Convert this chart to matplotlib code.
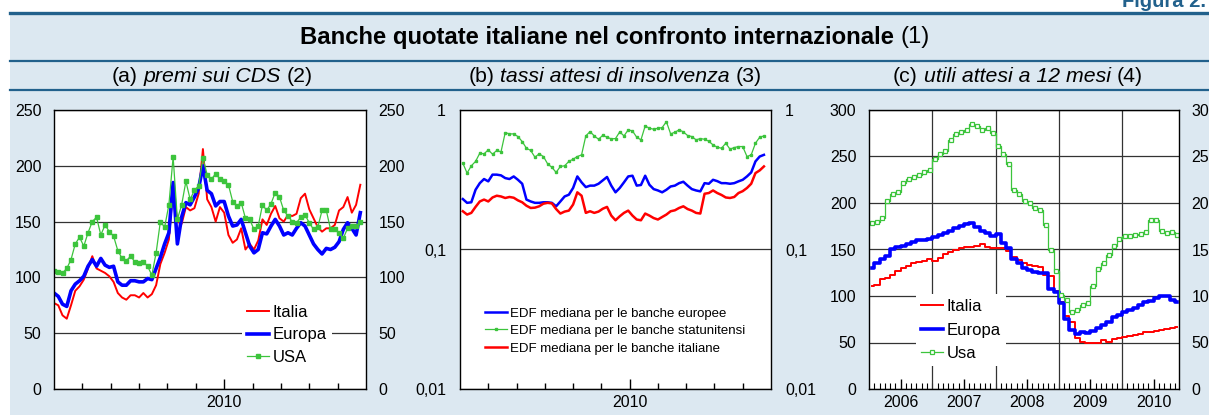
import numpy as np
import matplotlib
matplotlib.use('Agg')
import matplotlib.pyplot as plt
from matplotlib.transforms import IdentityTransform
from matplotlib.patches import Rectangle
from matplotlib.lines import Line2D
from matplotlib.ticker import NullLocator

plt.rcParams['font.family'] = ['Liberation Sans', 'DejaVu Sans']

RED = '#ff0000'
BLUE = '#0000ff'
GREEN = '#3cc43c'
BG = '#dce8f1'
NAVY = '#22618c'
GRID = '#333333'

# ---- (a) premi sui CDS: months from start of window, ~0.15 month step
months_a = np.round(np.arange(73) * 0.15, 2)
cds_italia = [77, 75, 66, 63, 75, 88, 92, 98, 108, 119,
              108, 106, 104, 101, 96, 86, 82, 80, 84, 84,
              82, 86, 82, 85, 93, 112, 122, 134, 180, 150,
              148, 163, 160, 162, 175, 215, 170,
              163, 150, 163, 158, 138, 131, 134, 144, 125, 130,
              125, 133, 152, 147, 157, 164, 153, 150, 156, 155,
              157, 171, 175, 161, 153, 145, 141, 144, 144, 147,
              160, 163, 172, 158, 165, 183]
cds_europa = [86, 83, 76, 74, 88, 94, 97, 101, 110, 116,
              110, 117, 111, 109, 110, 96, 93, 93, 97, 97,
              96, 96, 99, 98, 108, 118, 130, 140, 185, 130,
              154, 167, 165, 172, 180, 200, 178,
              175, 164, 168, 168, 155, 146, 147, 152, 140, 128,
              122, 125, 140, 139, 146, 152, 146, 138, 140, 138,
              144, 149, 146, 138, 130, 125, 121, 126, 125, 127,
              132, 143, 149, 144, 138, 158]
cds_usa = [106, 105, 104, 108, 116, 130, 136, 128, 140, 150,
           154, 138, 147, 141, 137, 124, 117, 115, 119, 114,
           113, 114, 110, 102, 122, 150, 145, 165, 208, 152,
           165, 186, 170, 178, 182, 207, 192,
           188, 193, 188, 186, 183, 168, 164, 167, 153, 152,
           143, 146, 165, 160, 166, 176, 172, 160, 155, 150,
           149, 154, 156, 149, 143, 145, 160, 160, 143, 143,
           140, 135, 144, 146, 146, 150]

# ---- (b) tassi attesi di insolvenza (EDF, log scale)
months_b = np.round(0.1 + np.arange(72) * 0.15, 2)
edf_europa = [0.230, 0.216, 0.218, 0.268, 0.299, 0.320, 0.308, 0.344, 0.344, 0.340,
              0.325, 0.320, 0.334, 0.316, 0.296, 0.228, 0.221, 0.216, 0.216, 0.218,
              0.218, 0.216, 0.204, 0.221, 0.240, 0.247, 0.276, 0.334, 0.303, 0.280,
              0.287, 0.287, 0.296, 0.313, 0.331, 0.287, 0.257, 0.276, 0.303, 0.334,
              0.338, 0.287, 0.290, 0.338, 0.291, 0.271, 0.265, 0.257, 0.268, 0.283,
              0.287, 0.299, 0.306, 0.287, 0.271, 0.265, 0.261, 0.299, 0.296, 0.316,
              0.309, 0.299, 0.299, 0.296, 0.299, 0.308, 0.316, 0.334, 0.357, 0.428,
              0.464, 0.477]
edf_usa = [0.416, 0.353, 0.398, 0.428, 0.490, 0.485, 0.518, 0.482, 0.513, 0.501,
           0.689, 0.674, 0.674, 0.645, 0.594, 0.532, 0.513, 0.459, 0.485, 0.464,
           0.411, 0.388, 0.357, 0.394, 0.398, 0.428, 0.444, 0.464, 0.477, 0.652,
           0.700, 0.652, 0.617, 0.659, 0.638, 0.621, 0.624, 0.697, 0.652, 0.720,
           0.708, 0.638, 0.611, 0.769, 0.740, 0.728, 0.740, 0.748, 0.825, 0.674,
           0.693, 0.720, 0.697, 0.656, 0.645, 0.611, 0.624, 0.617, 0.597, 0.562,
           0.541, 0.532, 0.578, 0.524, 0.538, 0.547, 0.547, 0.464, 0.477, 0.578,
           0.638, 0.652]
edf_italia = [0.188, 0.178, 0.183, 0.202, 0.221, 0.228, 0.221, 0.236, 0.243, 0.240,
              0.234, 0.238, 0.235, 0.225, 0.218, 0.206, 0.1985, 0.1995, 0.204, 0.213,
              0.216, 0.214, 0.195, 0.181, 0.187, 0.190, 0.210, 0.257, 0.243, 0.183,
              0.188, 0.183, 0.187, 0.196, 0.202, 0.175, 0.162, 0.173, 0.183, 0.190,
              0.175, 0.164, 0.162, 0.181, 0.175, 0.168, 0.164, 0.171, 0.178, 0.188,
              0.191, 0.1985, 0.204, 0.195, 0.190, 0.183, 0.181, 0.251, 0.254, 0.265,
              0.254, 0.246, 0.236, 0.234, 0.238, 0.254, 0.262, 0.276, 0.296, 0.353,
              0.369, 0.394]

# ---- (c) utili attesi a 12 mesi, monthly Jan 2006 - Nov 2010
dates_c = 2006 + (np.arange(59) + 0.5) / 12
utili_italia = [111, 112, 118, 119, 123, 127, 130, 132.5, 135, 136.5, 138, 139.5,
                138, 141, 145, 147, 149.5, 151.5, 152.5, 153, 153.6, 155.5, 153, 152,
                151.4, 151.4, 148, 142, 139, 135, 133.6, 132.5, 131.5, 123, 121, 105,
                94, 78, 72, 55, 51, 50, 49, 50, 52.5, 51, 54, 55,
                56, 57, 58, 59.6, 61, 61.4, 62, 63, 64.5, 66, 66.8]
utili_europa = [130, 136, 140, 143, 150, 152.5, 154, 156, 158, 160, 160.7, 161,
                163, 166, 168, 170, 173, 175, 177, 179, 174, 170, 168, 165,
                167, 157, 152, 140, 135, 130, 128, 126, 125, 125, 107, 104,
                92, 75, 63, 59, 61, 60, 62, 66, 68.6, 72, 77.5, 80,
                83, 84.6, 87, 90, 94, 95, 98, 100.5, 100, 96, 94]
utili_usa = [179, 180, 183.5, 202.5, 209.6, 212, 222, 226, 228, 230, 233, 235,
             247, 253, 256, 268, 274, 276, 278, 285, 283, 278, 281, 275,
             261, 253, 242, 214, 209.6, 202.5, 200, 195, 193, 176, 149, 127,
             100.7, 96, 83, 85, 90, 93, 111, 129, 135, 144, 154, 161,
             164, 165, 166, 167, 168.6, 182, 182, 170, 168, 169, 166]

W, H = 1209, 415
fig = plt.figure(figsize=(W / 100, H / 100), dpi=100)
fig.patch.set_facecolor('white')

# header / background
fig.patches.append(Rectangle((10, 0), W - 10, H - 13, transform=IdentityTransform(),
                             facecolor=BG, edgecolor='none', zorder=-5))
for yy, lw in [(13, 2.4), (60.5, 1.6), (90, 1.6)]:
    fig.lines.append(Line2D([10, W], [H - yy, H - yy], transform=IdentityTransform(),
                            color=NAVY, lw=lw, zorder=-4))
fig.text(1206, H - 6.5, 'Figura 2.', transform=IdentityTransform(), ha='right',
         va='baseline', fontsize=14.5, fontweight='bold', color=NAVY)

renderer = fig.canvas.get_renderer()


def rich(cx, cy, parts, size):
    gap = 0.278 * size * 100 / 72
    texts = [fig.text(0, H - cy, s, transform=IdentityTransform(), fontsize=size,
                      va='center', ha='left', **kw) for s, kw in parts]
    widths = [t.get_window_extent(renderer).width for t in texts]
    x = cx - (sum(widths) + gap * (len(texts) - 1)) / 2
    for t, w in zip(texts, widths):
        t.set_x(x)
        x += w + gap


rich(615, 37, [('Banche quotate italiane nel confronto internazionale', {'fontweight': 'bold'}),
               ('(1)', {})], 17.2)
rich(212, 76, [('(a)', {}), ('premi sui CDS', {'style': 'italic'}), ('(2)', {})], 15.3)
rich(615, 76, [('(b)', {}), ('tassi attesi di insolvenza', {'style': 'italic'}), ('(3)', {})], 15.3)
rich(1018, 76, [('(c)', {}), ('utili attesi a 12 mesi', {'style': 'italic'}), ('(4)', {})], 15.3)


def ax_at(l, r, t=110, b=389):
    a = fig.add_axes([l / W, (H - b) / H, (r - l) / W, (b - t) / H])
    a.set_facecolor('white')
    for s in a.spines.values():
        s.set_linewidth(1.0)
        s.set_color('black')
    return a


def legend(a, anchor, size, loc='center', **kw):
    lg = a.legend(loc=loc, bbox_to_anchor=anchor, fontsize=size, frameon=True,
                  fancybox=False, framealpha=1, borderpad=0.3, **kw)
    lg.get_frame().set_facecolor('white')
    lg.get_frame().set_edgecolor('none')
    return lg


def month_axis(a):
    a.set_xlim(0, 11)
    a.set_xticks([6])
    a.set_xticklabels(['2010'])
    a.set_xticks([1, 2, 3, 4, 5, 7, 8, 9, 10], minor=True)
    a.tick_params(axis='x', which='major', direction='in', length=7, width=1,
                  labelsize=11.5, pad=4)
    a.tick_params(axis='x', which='minor', direction='in', length=4, width=1)


# ---- panel (a)
ax = ax_at(54, 366)
ax.plot(months_a, cds_italia, color=RED, lw=1.4, label='Italia')
ax.plot(months_a, cds_europa, color=BLUE, lw=2.6, label='Europa')
ax.plot(months_a, cds_usa, color=GREEN, lw=0.9, marker='s', ms=3, mec=GREEN, label='USA')
ax.set_ylim(0, 250)
ax.set_yticks(range(0, 251, 50))
ax.yaxis.grid(True, color=GRID, lw=0.9)
ax.set_axisbelow(True)
ax.tick_params(axis='y', length=0, labelsize=11.5, labelleft=True, labelright=True, pad=9)
month_axis(ax)
legend(ax, (0.747, 0.194), 12, handlelength=1.3, handletextpad=0.25, labelspacing=0.45)

# ---- panel (b)
ax = ax_at(460, 771)
ax.plot(months_b, edf_europa, color=BLUE, lw=1.8, label='EDF mediana per le banche europee')
ax.plot(months_b, edf_usa, color=GREEN, lw=0.9, marker='s', ms=1.6, mec=GREEN,
        label='EDF mediana per le banche statunitensi')
ax.plot(months_b, edf_italia, color=RED, lw=1.8, label='EDF mediana per le banche italiane')
ax.set_yscale('log')
ax.set_ylim(0.01, 1)
ax.set_yticks([0.01, 0.1, 1])
ax.set_yticklabels(['0,01', '0,1', '1'])
ax.yaxis.set_minor_locator(NullLocator())
ax.yaxis.grid(True, which='major', color=GRID, lw=0.9)
ax.set_axisbelow(True)
ax.tick_params(axis='y', length=0, labelsize=11.5, labelleft=True, labelright=True, pad=10)
month_axis(ax)
legend(ax, (0.045, 0.208), 9.5, loc='center left', handlelength=1.7, handletextpad=0.25,
       labelspacing=0.4)

# ---- panel (c)
ax = ax_at(869, 1179)
ax.plot(dates_c, utili_italia, color=RED, lw=1.4, drawstyle='steps-mid', label='Italia')
ax.plot(dates_c, utili_europa, color=BLUE, lw=2.6, drawstyle='steps-mid', label='Europa')
ax.plot(dates_c, utili_usa, color=GREEN, lw=0.9, drawstyle='steps-mid', marker='s', ms=3.5,
        mfc='white', mec=GREEN, mew=0.9, label='Usa')
ax.set_xlim(2006, 2010.9)
ax.set_ylim(0, 300)
ax.set_yticks(range(0, 301, 50))
ax.yaxis.grid(True, color=GRID, lw=0.9)
for yr in [2007, 2008, 2009, 2010]:
    ax.axvline(yr, color=GRID, lw=0.9, zorder=1)
ax.set_axisbelow(True)
ax.set_xticks([2006.5, 2007.5, 2008.5, 2009.5, 2010.5])
ax.set_xticklabels(['2006', '2007', '2008', '2009', '2010'])
ax.set_xticks([2006 + k / 12 for k in range(1, 59)], minor=True)
ax.tick_params(axis='x', which='major', direction='in', length=7, width=1, labelsize=11.5, pad=4)
ax.tick_params(axis='x', which='minor', direction='in', length=4, width=0.8)
ax.tick_params(axis='y', length=0, labelsize=11.5, labelleft=True, labelright=True, pad=9)
legend(ax, (0.297, 0.211), 12, handlelength=1.3, handletextpad=0.25, labelspacing=0.5)

fig.savefig('out.png', dpi=100, facecolor='white')
